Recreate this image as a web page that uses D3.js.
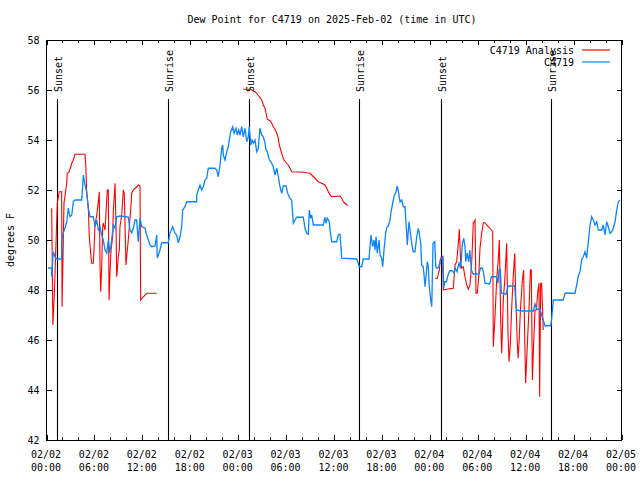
<!DOCTYPE html>
<html><head><meta charset="utf-8">
<script src="https://cdn.jsdelivr.net/npm/d3@7"></script>
<style>
body{margin:0;background:#fff}
svg{display:block}
text{font-family:"DejaVu Sans Mono","Liberation Mono",monospace;font-size:10px;fill:#000}
</style>
</head><body>
<svg id="chart" width="640" height="480"></svg>
<script>
// ---------- data ----------
const startTime = "2025-02-02T00:00:00Z";
const endTime = "2025-02-05T00:00:00Z";
const titleText = "Dew Point for C4719 on 2025-Feb-02 (time in UTC)";
const yLabel = "degrees F";
const seriesNames = ["C4719 Analysis", "C4719"];
const yTicks = [42, 44, 46, 48, 50, 52, 54, 56, 58];
const xTickHours = [0, 6, 12, 18, 24, 30, 36, 42, 48, 54, 60, 66, 72];
const xTickDates = ["02/02","02/02","02/02","02/02","02/03","02/03","02/03","02/03","02/04","02/04","02/04","02/04","02/05"];
const xTickTimes = ["00:00","06:00","12:00","18:00","00:00","06:00","12:00","18:00","00:00","06:00","12:00","18:00","00:00"];
const eventHours = [1.35, 15.25, 25.39, 39.17, 49.44, 63.21];
const eventLabels = ["Sunset","Sunrise","Sunset","Sunrise","Sunset","Sunrise"];

// hours since 2025-02-02 00:00 UTC
const obsHours = [0.19,0.65,0.65,0.85,1.06,1.28,1.90,1.90,2.10,2.32,2.53,2.73,2.94,3.16,3.36,3.57,4.41,4.61,4.82,5.03,5.23,5.45,5.86,6.07,6.29,6.49,6.70,6.91,7.11,7.33,7.54,7.74,7.95,8.16,8.36,8.58,8.79,9.20,10.24,10.46,10.67,10.87,11.08,11.29,11.49,11.71,11.92,12.33,12.55,12.96,13.17,13.59,13.80,13.87,14.21,14.43,15.25,15.46,15.80,16.09,16.30,16.50,16.72,16.93,17.05,17.34,17.56,18.81,18.81,19.01,19.22,19.43,19.63,19.85,20.06,20.26,21.10,21.31,21.51,21.73,21.94,22.06,22.14,22.35,22.56,22.76,22.89,23.07,23.32,23.48,23.73,23.89,24.07,24.23,24.44,24.64,24.86,25.07,25.27,25.39,25.57,25.73,25.90,26.11,26.32,26.52,26.73,26.95,27.15,27.36,27.49,27.65,27.90,28.11,28.40,28.61,28.83,29.03,29.24,29.45,29.65,29.99,30.20,30.49,30.70,30.90,31.12,31.33,32.16,32.37,32.58,32.78,32.91,33.08,33.21,33.41,34.66,34.87,35.00,35.16,35.41,35.50,35.71,36.34,36.54,36.75,36.88,36.96,38.84,39.04,39.17,39.47,39.67,40.38,40.51,40.63,40.85,41.01,41.14,41.26,41.42,41.64,41.76,41.97,42.10,42.26,42.47,42.60,42.80,43.01,43.14,43.35,43.51,43.76,43.93,44.10,44.27,44.48,44.68,44.89,45.10,45.18,45.39,45.52,45.73,45.93,46.14,46.36,46.56,46.68,46.86,46.98,47.18,47.40,47.52,47.68,47.81,47.93,48.11,48.24,48.40,48.61,48.74,48.90,49.15,49.32,49.48,49.65,49.74,49.87,50.08,50.28,50.49,50.83,51.03,51.20,51.41,51.53,51.66,51.83,51.96,52.08,52.25,52.41,52.50,52.66,52.87,53.00,53.21,53.41,54.16,54.33,54.58,54.74,54.91,55.50,55.71,56.33,56.53,56.66,56.83,56.96,57.58,57.79,58.62,58.83,59.46,60.96,61.17,61.38,61.80,62.00,62.42,63.14,63.26,63.46,64.71,64.93,66.18,66.39,66.59,66.80,67.02,67.22,67.43,67.64,67.72,67.93,68.06,68.27,68.47,68.69,68.90,69.10,69.52,69.72,69.93,70.15,70.35,70.56,70.77,70.97,71.19,71.40,71.60,71.81];
const obsValues = [48.88,48.88,48.53,49.53,49.33,49.24,49.24,50.0,50.28,50.48,50.73,51.28,50.93,51.0,51.53,51.6,51.6,52.6,52.2,51.93,51.27,50.93,50.93,50.53,50.8,50.4,50.53,50.2,50.0,49.6,49.48,50.0,49.48,50.0,50.6,50.48,50.93,50.96,50.92,50.4,50.28,50.48,50.8,50.8,49.93,50.87,50.53,50.48,50.2,49.8,49.73,49.76,50.2,49.28,49.6,49.89,49.89,50.27,50.53,50.27,50.2,49.89,50.13,50.53,51.2,51.33,51.53,51.53,51.8,52.0,52.2,52.0,52.13,52.4,52.47,52.87,52.87,52.8,52.53,53.0,53.67,53.8,53.4,53.2,53.53,53.73,54.0,54.33,54.53,54.27,54.47,54.2,54.4,54.2,54.53,54.13,54.47,53.93,54.13,54.53,53.8,54.0,53.87,54.0,53.53,53.67,54.47,54.2,54.13,53.87,53.6,53.53,53.2,53.13,52.93,52.6,52.87,52.53,52.13,51.87,52.16,52.16,51.87,51.67,51.6,50.67,50.8,50.91,50.91,50.47,50.27,50.23,51.2,50.87,51.0,50.6,50.6,50.91,50.67,50.87,50.73,50.4,49.93,49.93,50.2,50.23,49.73,49.27,49.24,49.07,48.93,48.93,49.24,49.24,49.73,50.2,49.73,50.0,49.6,50.13,49.47,50.0,49.4,49.27,48.93,49.6,50.27,50.51,50.56,50.8,51.13,51.47,51.73,51.93,52.16,51.87,51.53,51.6,51.33,51.33,50.27,49.8,50.73,50.4,49.87,49.53,49.53,50.13,50.47,50.27,49.87,49.0,48.93,48.13,48.53,49.13,48.93,48.13,47.6,47.33,49.87,49.93,48.93,48.87,48.93,49.2,49.27,49.33,48.07,48.33,48.33,48.6,48.77,48.77,48.67,48.87,48.73,48.93,49.07,48.87,49.27,49.87,50.07,49.73,49.13,49.47,49.13,49.6,48.8,48.64,48.64,48.87,48.87,48.67,48.27,48.24,48.53,48.53,48.27,48.8,48.83,47.87,47.84,48.16,48.16,47.2,47.16,47.16,47.44,47.23,47.23,47.0,46.57,46.57,46.87,47.6,47.6,47.87,47.87,48.2,48.56,48.73,49.23,49.33,49.53,49.27,49.53,50.2,50.6,50.93,50.8,50.6,50.73,50.4,50.4,50.6,50.2,50.73,50.53,50.27,50.33,50.47,50.73,51.2,51.53,51.6];

// analysis series; null marks a gap
const anaHours = [0.65,0.80,1.00,1.35,1.60,1.90,1.95,2.03,2.19,2.53,2.60,2.85,3.16,3.36,3.57,4.82,4.91,5.03,5.23,5.36,5.53,5.66,5.86,5.95,6.07,6.29,6.49,6.61,6.70,6.79,6.91,7.04,7.11,7.33,7.54,7.61,7.74,7.83,7.95,8.08,8.29,8.36,8.58,8.70,8.79,8.87,8.99,9.12,9.20,9.42,9.62,9.74,9.95,10.04,10.24,10.37,10.54,10.67,10.87,11.29,11.49,11.71,11.79,12.12,12.55,13.80,
 19.0,
 24.64,25.48,25.69,26.11,26.32,26.65,26.95,27.15,27.36,27.49,27.65,27.99,28.20,28.40,28.61,28.83,29.03,29.15,29.33,29.58,29.74,30.08,30.28,30.49,30.70,32.16,32.99,33.21,33.62,34.03,34.46,34.87,35.09,35.29,35.50,35.71,36.75,36.96,37.17,37.38,37.59,37.79,
 43.0,
 48.65,48.94,49.19,49.27,49.40,49.61,49.69,50.11,50.94,51.03,51.15,51.36,51.57,51.69,51.87,51.99,52.19,52.40,52.62,52.82,53.03,53.24,53.44,53.66,53.78,53.94,54.12,54.28,54.49,54.70,54.91,55.12,55.53,55.87,55.95,56.16,56.37,56.57,56.70,56.79,56.87,57.00,57.20,57.41,57.62,57.79,57.92,58.09,58.22,58.42,58.63,58.76,58.92,59.05,59.17,59.34,59.59,59.75,59.87,60.00,60.16,60.41,60.59,60.71,60.84,61.00,61.17,61.34,61.54,61.67,61.75,61.88,62.00,62.20];
const anaValues = [51.27,46.6,48.0,51.47,51.93,51.93,47.33,48.67,51.47,52.27,52.67,52.73,53.07,53.2,53.43,53.43,53.07,51.93,51.33,50.13,49.47,49.07,49.07,49.6,50.6,51.0,51.53,51.93,48.93,47.93,48.93,50.53,50.67,50.4,51.6,52.0,52.0,47.6,48.67,49.6,50.13,51.07,52.27,50.67,48.53,48.8,49.33,49.6,50.53,51.0,52.0,51.87,49.0,49.33,50.0,50.53,51.2,51.87,52.0,52.13,52.2,52.16,47.6,47.73,47.87,47.87,
 null,
 56.03,56.03,56.0,55.93,55.87,55.73,55.6,55.4,55.27,55.07,54.83,54.77,54.67,54.53,54.43,54.27,54.07,53.8,53.6,53.33,53.2,53.07,53.0,52.87,52.73,52.71,52.67,52.6,52.47,52.33,52.27,52.2,52.07,51.93,51.8,51.73,51.76,51.67,51.53,51.47,51.4,51.39,
 null,
 48.47,48.47,48.8,49.07,49.31,49.33,48.0,48.03,48.07,48.47,49.0,49.13,49.87,50.43,49.07,48.87,48.93,48.53,48.2,48.03,48.2,49.07,50.67,50.8,47.87,47.87,48.53,49.67,50.27,50.69,50.69,50.6,50.47,50.33,45.73,46.93,48.4,49.2,50.0,48.4,46.8,45.47,47.6,48.53,49.87,46.27,45.13,45.87,47.07,48.4,49.47,47.73,46.13,45.27,45.87,47.2,48.4,48.8,46.27,44.27,45.47,47.2,48.8,48.8,44.4,45.87,47.2,47.2,48.0,48.27,43.73,48.27,48.27,46.4];

// ---------- chart ----------
const W = 640, H = 480;
const mLeft = 46.5, mRight = 621.5, mTop = 40, mBottom = 440;
const t0 = new Date(startTime);
const toDate = h => new Date(t0.getTime() + h * 3600e3);

const svg = d3.select("#chart");
svg.append("rect").attr("width", W).attr("height", H).attr("fill", "#fff");

const x = d3.scaleUtc().domain([new Date(startTime), new Date(endTime)]).range([mLeft, mRight]);
const y = d3.scaleLinear().domain([42, 58]).range([mBottom, mTop]);

// title
svg.append("text").attr("x", 332).attr("y", 23).attr("text-anchor", "middle").text(titleText);

// y label
svg.append("text").attr("transform", `translate(14,${(mTop + mBottom) / 2}) rotate(-90)`)
  .attr("text-anchor", "middle").text(yLabel);

// x axis bottom (majors with labels)
const majorDates = xTickHours.map(toDate);
const minorDates = d3.range(0, 73, 2).filter(h => h % 6 !== 0).map(toDate);

const gxb = svg.append("g").attr("transform", `translate(0,${mBottom})`)
  .call(d3.axisBottom(x).tickValues(majorDates).tickSizeInner(-5).tickSizeOuter(0).tickPadding(10).tickFormat((d, i) => xTickDates[i]));
gxb.select(".domain").remove();
gxb.selectAll(".tick text").attr("fill", "#000")
  .each(function (d, i) {
    const t = d3.select(this);
    t.text(null).attr("y", 0).attr("dy", null);
    t.append("tspan").attr("x", -1).attr("y", 18).text(xTickDates[i]);
    t.append("tspan").attr("x", -1).attr("y", 31).text(xTickTimes[i]);
  });
const gxbm = svg.append("g").attr("transform", `translate(0,${mBottom})`)
  .call(d3.axisBottom(x).tickValues(minorDates).tickSizeInner(-3).tickSizeOuter(0).tickFormat(""));
gxbm.select(".domain").remove();

// x axis top
const gxt = svg.append("g").attr("transform", `translate(0,${mTop})`)
  .call(d3.axisTop(x).tickValues(majorDates).tickSizeInner(-5).tickSizeOuter(0).tickFormat(""));
gxt.select(".domain").remove();
const gxtm = svg.append("g").attr("transform", `translate(0,${mTop})`)
  .call(d3.axisTop(x).tickValues(minorDates).tickSizeInner(-3).tickSizeOuter(0).tickFormat(""));
gxtm.select(".domain").remove();

// y axes
const gyl = svg.append("g").attr("transform", `translate(${mLeft},0)`)
  .call(d3.axisLeft(y).tickValues(yTicks).tickSizeInner(-5).tickSizeOuter(0).tickPadding(7).tickFormat(d3.format("d")));
gyl.select(".domain").remove();
gyl.selectAll(".tick text").attr("fill", "#000").attr("dy", "0.35em");
const gyr = svg.append("g").attr("transform", `translate(${mRight},0)`)
  .call(d3.axisRight(y).tickValues(yTicks).tickSizeInner(-5).tickSizeOuter(0).tickFormat(""));
gyr.select(".domain").remove();
svg.selectAll("g").attr("font-family", null).attr("font-size", null);
svg.selectAll(".tick line").attr("stroke", "#000").attr("shape-rendering", "crispEdges");

// sunrise / sunset lines
const ev = svg.append("g");
eventHours.forEach((h, i) => {
  const xe = Math.round(x(toDate(h))) + 0.5;
  ev.append("line").attr("x1", xe).attr("x2", xe).attr("y1", 99).attr("y2", mBottom)
    .attr("stroke", "#000").attr("stroke-width", 1.1);
  ev.append("text").attr("transform", `translate(${xe + 4.5},92) rotate(-90)`).text(eventLabels[i]);
});

// data lines
const obs = obsHours.map((h, i) => ({ t: toDate(h), v: obsValues[i] }));
const ana = anaHours.map((h, i) => ({ t: toDate(h), v: anaValues[i] }));
const line = d3.line().defined(d => d.v !== null).x(d => x(d.t)).y(d => y(d.v));

svg.append("path").datum(ana).attr("d", line).attr("fill", "none")
  .attr("stroke", "#ff0000").attr("stroke-width", 1.1).attr("stroke-linejoin", "miter");
svg.append("path").datum(obs).attr("d", line).attr("fill", "none")
  .attr("stroke", "#0a84ff").attr("stroke-width", 1.3).attr("stroke-linejoin", "miter");

// frame
svg.append("rect").attr("x", mLeft).attr("y", mTop).attr("width", mRight - mLeft).attr("height", mBottom - mTop)
  .attr("fill", "none").attr("stroke", "#000").attr("stroke-width", 1).attr("shape-rendering", "crispEdges");

// legend
const legColors = ["#ff0000", "#0a84ff"];
seriesNames.forEach((name, i) => {
  const ly = 50 + i * 12;
  svg.append("text").attr("x", 574).attr("y", ly + 3.5).attr("text-anchor", "end").text(name);
  svg.append("line").attr("x1", 582).attr("x2", 610).attr("y1", ly).attr("y2", ly)
    .attr("stroke", legColors[i]).attr("stroke-width", 1.2);
});
</script>
</body></html>
